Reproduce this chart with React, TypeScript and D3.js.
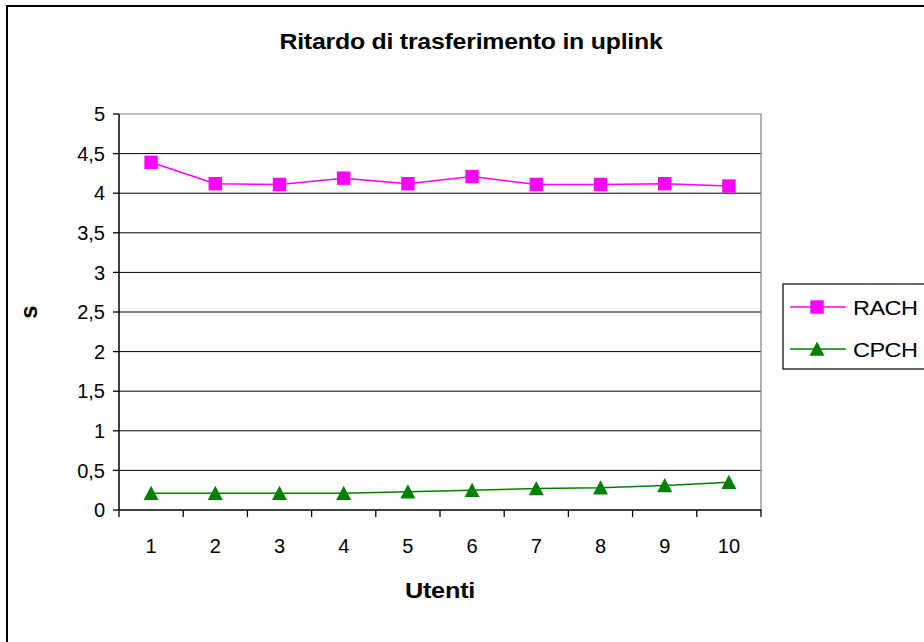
import React from "react";
import * as d3 from "d3";

const categories = ["1", "2", "3", "4", "5", "6", "7", "8", "9", "10"];
const rach = [4.39, 4.12, 4.11, 4.19, 4.12, 4.21, 4.11, 4.11, 4.12, 4.09];
const cpch = [0.21, 0.21, 0.21, 0.21, 0.23, 0.25, 0.27, 0.28, 0.31, 0.35];
const yTicks = [0, 0.5, 1, 1.5, 2, 2.5, 3, 3.5, 4, 4.5, 5];
const seriesNames = ["RACH", "CPCH"];

const FONT = "'Liberation Sans', Arial, sans-serif";

export default function App() {
  const left = 119, right = 761, top = 114, bottom = 510;
  const x = d3.scaleBand<string>().domain(categories).range([left, right]);
  const y = d3.scaleLinear().domain([0, 5]).range([bottom, top]);
  const cx = (c: string) => (x(c) as number) + x.bandwidth() / 2;

  const line = d3
    .line<number>()
    .x((_, i) => cx(categories[i]))
    .y((d) => y(d));

  const fmt = (v: number) => String(v).replace(".", ",");
  const tri = (px: number, py: number, s = 7.5) =>
    `M${px},${py - s} L${px + s},${py + s * 0.9} L${px - s},${py + s * 0.9} Z`;

  const xTickPos = categories.map((c) => x(c) as number).concat([right]);

  return (
    <svg
      width={924}
      height={642}
      style={{ position: "absolute", left: 0, top: 0, background: "#fff" }}
      fontFamily={FONT}
    >
      <rect x={7} y={6} width={930} height={640} fill="#fff" stroke="#000" strokeWidth={2} />
      <text transform="translate(471,49) scale(1.13,1)" textAnchor="middle" fontSize={22} fontWeight="bold" letterSpacing={-0.2}>
        Ritardo di trasferimento in uplink
      </text>

      {/* gridlines */}
      {yTicks.filter((t) => t > 0).map((t) => (
        <line
          key={t}
          x1={left}
          x2={right}
          y1={y(t)}
          y2={y(t)}
          stroke={t === 5 ? "#808080" : "#000"}
          strokeWidth={1}
        />
      ))}
      <line x1={right} x2={right} y1={top} y2={bottom} stroke="#808080" strokeWidth={1.2} />

      {/* y axis */}
      <line x1={left} x2={left} y1={top} y2={bottom} stroke="#000" strokeWidth={1.5} />
      {yTicks.map((t) => (
        <g key={t}>
          <line x1={left - 6} x2={left} y1={y(t)} y2={y(t)} stroke="#000" strokeWidth={1.3} />
          <text x={105} y={y(t)} dy="0.36em" textAnchor="end" fontSize={20}>
            {fmt(t)}
          </text>
        </g>
      ))}

      {/* x axis */}
      <line x1={left} x2={right} y1={bottom} y2={bottom} stroke="#000" strokeWidth={1.5} />
      {xTickPos.map((p, i) => (
        <line key={i} x1={p} x2={p} y1={bottom} y2={bottom + 7} stroke="#000" strokeWidth={1.3} />
      ))}
      {categories.map((c) => (
        <text key={c} x={cx(c)} y={553} textAnchor="middle" fontSize={20}>
          {c}
        </text>
      ))}

      <text transform="translate(440,598) scale(1.15,1)" textAnchor="middle" fontSize={22} fontWeight="bold" letterSpacing={-0.2}>
        Utenti
      </text>
      <text
        transform={`translate(37,312) rotate(-90)`}
        textAnchor="middle"
        fontSize={24}
        fontWeight="bold"
      >
        s
      </text>

      {/* series */}
      <path d={line(rach) || ""} fill="none" stroke="#ff00ff" strokeWidth={1.5} />
      {rach.map((v, i) => (
        <rect key={i} x={cx(categories[i]) - 6.7} y={y(v) - 6.7} width={13.4} height={13.4} fill="#ff00ff" />
      ))}
      <path d={line(cpch) || ""} fill="none" stroke="#008000" strokeWidth={1.5} />
      {cpch.map((v, i) => (
        <path key={i} d={tri(cx(categories[i]), y(v))} fill="#008000" />
      ))}

      {/* legend */}
      <rect x={783} y={284} width={170} height={85} fill="#fff" stroke="#000" strokeWidth={1.2} />
      <line x1={790} x2={846} y1={307} y2={307} stroke="#ff00ff" strokeWidth={1.5} />
      <rect x={817 - 6.7} y={307 - 6.7} width={13.4} height={13.4} fill="#ff00ff" />
      <text transform="translate(853,315) scale(1.12,1)" fontSize={21} letterSpacing={-0.5}>{seriesNames[0]}</text>
      <line x1={790} x2={846} y1={349} y2={349} stroke="#008000" strokeWidth={1.5} />
      <path d={tri(817, 349)} fill="#008000" />
      <text transform="translate(853,357) scale(1.12,1)" fontSize={21} letterSpacing={-0.5}>{seriesNames[1]}</text>
    </svg>
  );
}
